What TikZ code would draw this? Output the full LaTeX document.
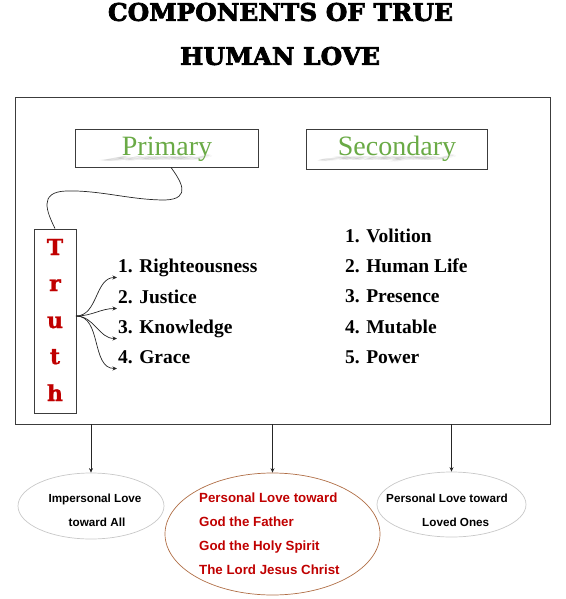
\documentclass[tikz,border=0pt]{standalone}
\usepackage{fontspec}
\setmainfont{Liberation Serif}
\newfontfamily\titlefont{DejaVu Serif}[BoldFeatures={FakeBold=3}]
\newfontfamily\slabfont{DejaVu Serif}[BoldFeatures={FakeBold=1.2}]
\newfontfamily\sansf{Liberation Sans}
\usetikzlibrary{arrows.meta,shapes.geometric}
\definecolor{darkred}{RGB}{192,0,0}
\definecolor{leafgreen}{RGB}{106,170,70}
\definecolor{rimbrown}{RGB}{176,110,70}
\definecolor{rimgray}{RGB}{200,200,200}
\definecolor{edgegray}{RGB}{60,60,60}
\begin{document}
\begin{tikzpicture}[x=1pt,y=-1pt,
  frame/.style={draw=edgegray,line width=0.9pt,inner sep=0pt},
  headtxt/.style={font=\fontsize{28}{30}\selectfont,text=leafgreen,inner sep=0pt,anchor=base},
  headshadow/.style={font=\fontsize{28}{30}\selectfont,text=black,opacity=0.07,inner sep=0pt,anchor=base,transform shape,yscale=-0.22,xslant=-1.2},
  letter/.style={font=\slabfont\bfseries\fontsize{22}{25}\selectfont,text=darkred,inner sep=0pt,anchor=base},
  item/.style={font=\bfseries\fontsize{19.5}{21}\selectfont,inner xsep=1pt,inner ysep=0pt,anchor=base west},
  conn/.style={line width=0.7pt,black!85},
  arr/.style={conn,-{Stealth[length=4.5pt,width=4pt]}},
  oval/.style={ellipse,draw,line width=0.7pt,inner sep=0pt},
  ovtxt/.style={font=\sansf\bfseries\fontsize{11.7}{13}\selectfont,inner sep=0pt,anchor=base},
  redtxt/.style={font=\sansf\bfseries\fontsize{13.3}{15}\selectfont,text=darkred,inner sep=0pt,anchor=base west}
]
\useasboundingbox (0,0) rectangle (565,599);

% title
\node[inner sep=0pt] (t1) at (280.5,12) {\resizebox{345pt}{18pt}{\titlefont\bfseries COMPONENTS OF TRUE}};
\node[inner sep=0pt] (t2) at (280,56) {\resizebox{200pt}{18pt}{\titlefont\bfseries HUMAN LOVE}};

% main frame
\node[frame,minimum width=535pt,minimum height=327pt] (main) at (282.5,260.5) {};

% headings
\node[frame,minimum width=183pt,minimum height=38pt] (prim) at (166.5,148) {};
\node[frame,minimum width=181pt,minimum height=40pt] (sec) at (396.5,149) {};
\foreach \dx/\dy in {0/0,1.5/0.8,-1.5/0.8,0/1.6,3/1.2,-3/1.2}{
  \node[headshadow] at (167+\dx,156+\dy) {Primary};
  \node[headshadow] at (397+\dx,156+\dy) {Secondary};
}
\node[headtxt] (primt) at (167,155) {Primary};
\node[headtxt] (sect) at (397,155) {Secondary};

% Truth box
\node[frame,minimum width=42pt,minimum height=184pt] (truth) at (55,321) {};
\node[letter] (lT) at (55,255) {T};
\node[letter] (lr) at (55,291) {r};
\node[letter] (lu) at (55,328) {u};
\node[letter] (lt) at (55,364) {t};
\node[letter] (lh) at (55,401) {h};

% wavy connector
\draw[conn] ([xshift=4.5pt]prim.south) .. controls (180,180) and (193,199) .. (165,200)
  .. controls (130,200) and (100,190) .. (66,191)
  .. controls (38,192) and (47,212) .. (truth.north);

% primary items
\coordinate (fork) at (76,316);
\node[item] (p1) at (117,272) {1. Righteousness};
\node[item] (p2) at (117,303) {2. Justice};
\node[item] (p3) at (117,333) {3. Knowledge};
\node[item] (p4) at (117,363) {4. Grace};
\foreach \n in {p1,p2,p3,p4}
  \draw[arr] (fork) to[out=0,in=180] ([yshift=-5.5pt]\n.base west);

% secondary items
\node[item] (s1) at (344,242) {1. Volition};
\node[item] (s2) at (344,272) {2. Human Life};
\node[item] (s3) at (344,302) {3. Presence};
\node[item] (s4) at (344,333) {4. Mutable};
\node[item] (s5) at (344,363) {5. Power};

% ellipses
\node[oval,draw=rimgray,minimum width=146pt,minimum height=66pt] (left) at (91,506) {};
\node[oval,draw=rimbrown,minimum width=215pt,minimum height=122pt] (mid) at (272.5,534) {};
\node[oval,draw=rimgray,minimum width=149pt,minimum height=65pt] (right) at (451.5,504.5) {};

\draw[arr] (left.north |- main.south) -- (left.north);
\draw[arr] (mid.north |- main.south) -- (mid.north);
\draw[arr] (right.north |- main.south) -- (right.north);

\node[ovtxt] (l1) at (95,502) {Impersonal Love};
\node[ovtxt] (l2) at (97,526) {toward All};
\node[redtxt] (m1) at (199,502) {Personal Love toward};
\node[redtxt] (m2) at (199,526) {God the Father};
\node[redtxt] (m3) at (199,550) {God the Holy Spirit};
\node[redtxt] (m4) at (199,574) {The Lord Jesus Christ};
\node[ovtxt,anchor=base west] (r1) at (386,502) {Personal Love toward};
\node[ovtxt,anchor=base west] (r2) at (422,526) {Loved Ones};
\end{tikzpicture}
\end{document}
